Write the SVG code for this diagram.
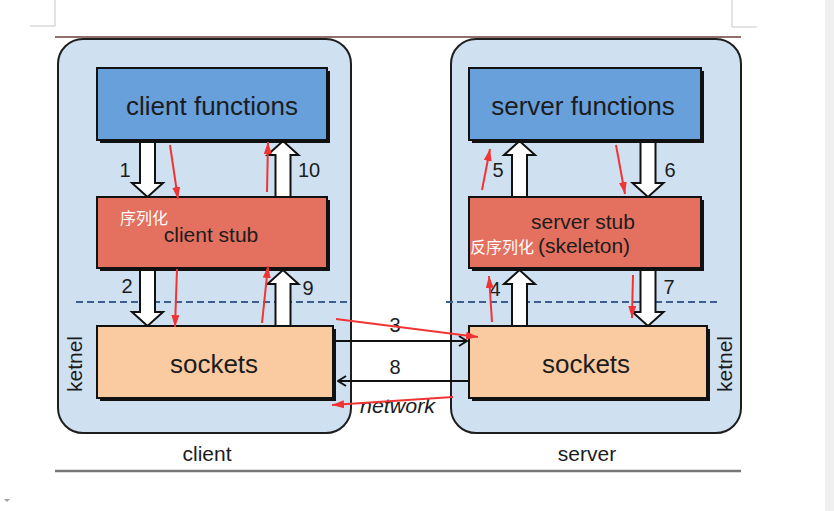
<svg xmlns="http://www.w3.org/2000/svg" width="834" height="511" viewBox="0 0 834 511">
<defs>
<style>
.cont{fill:#cfe0f1;stroke:#1e1e1e;stroke-width:2}
.shadow{fill:#111}
.box{stroke:#111;stroke-width:2}
.fn{fill:#68a0dc}
.stub{fill:#e4705f}
.sock{fill:#facba0}
.t{font-family:"Liberation Sans",Arial,sans-serif;fill:#1c1c1c}
.big{font-size:26px;text-anchor:middle}
.mid{font-size:21px;text-anchor:middle}
.num{font-size:20px;text-anchor:middle}
.cjk{font-family:"Liberation Sans","Noto Sans CJK SC",sans-serif;font-size:16px;fill:#ffffff}
.hollow{fill:#ffffff;stroke:#111;stroke-width:2;stroke-linejoin:miter}
.dash{stroke:#3d5f8f;stroke-width:2;stroke-dasharray:7 4;fill:none}
.net{stroke:#111;stroke-width:2;fill:none}
.red{stroke:#f03434;stroke-width:2;fill:none;marker-end:url(#rh)}
.mark{stroke:#c8c8c8;stroke-width:1;fill:none}
</style>
<marker id="rh" viewBox="0 0 12 8" refX="12" refY="4" markerWidth="12" markerHeight="8" markerUnits="userSpaceOnUse" orient="auto"><path d="M0,0 L12,4 L0,8 z" fill="#f03434"/></marker>
<marker id="chev" viewBox="0 0 10 12" refX="9" refY="6" markerWidth="10" markerHeight="12" markerUnits="userSpaceOnUse" orient="auto"><path d="M1,1 L9,6 L1,11" fill="none" stroke="#111" stroke-width="2"/></marker>
<path id="down" d="M-7.5,0 h15 v42 h8 l-15.5,14 l-15.5,-14 h8 z"/>
<path id="up" d="M-7.5,56 h15 v-42 h8 l-15.5,-14 l-15.5,14 h8 z"/>
</defs>
<rect width="834" height="511" fill="#ffffff"/>
<rect x="825" y="0" width="9" height="511" fill="#f0f0f0"/>
<path class="mark" d="M55,0 V26 H30 M732,0 V27 H757"/>
<path d="M4,499 h6 l-3,3 z" fill="#a0a0a0"/>
<line x1="55" y1="37" x2="741" y2="37" stroke="#6a4038" stroke-width="1.5"/>
<line x1="55" y1="471" x2="741" y2="471" stroke="#777777" stroke-width="2.5"/>

<g id="client">
<rect class="cont" x="58" y="39" width="293" height="394" rx="25"/>
<text class="t mid" x="207" y="461">client</text>
<text class="t mid" transform="translate(82,364) rotate(-90)">ketnel</text>
</g>
<g id="server">
<rect class="cont" x="451" y="39" width="290" height="394" rx="25"/>
<text class="t mid" x="587" y="461">server</text>
<text class="t mid" transform="translate(732,364) rotate(-90)">ketnel</text>
</g>

<g id="dashed">
<line class="dash" x1="76" y1="302" x2="350" y2="302"/>
<line class="dash" x1="446" y1="302" x2="721" y2="302"/>
</g>

<g id="connectors">
<use href="#down" class="hollow" transform="translate(147.5,141)"/>
<use href="#down" class="hollow" transform="translate(147.5,270)"/>
<use href="#up" class="hollow" transform="translate(283,141)"/>
<use href="#up" class="hollow" transform="translate(283,270)"/>
<use href="#up" class="hollow" transform="translate(519.5,141)"/>
<use href="#up" class="hollow" transform="translate(519.5,270)"/>
<use href="#down" class="hollow" transform="translate(648,141)"/>
<use href="#down" class="hollow" transform="translate(648,270)"/>
<line class="net" x1="336" y1="341" x2="467" y2="341" marker-end="url(#chev)"/>
<line class="net" x1="468" y1="381" x2="338" y2="381" marker-end="url(#chev)"/>
<text class="t num" x="125" y="177">1</text>
<text class="t num" x="309" y="177">10</text>
<text class="t num" x="127" y="293">2</text>
<text class="t num" x="308" y="295">9</text>
<text class="t num" x="395" y="332">3</text>
<text class="t num" x="495" y="296">4</text>
<text class="t num" x="498" y="177">5</text>
<text class="t num" x="670" y="177">6</text>
<text class="t num" x="669" y="294">7</text>
<text class="t num" x="395" y="374">8</text>
<text class="t" x="360" y="413" font-size="20" font-style="italic" textLength="75" lengthAdjust="spacingAndGlyphs">network</text>
</g>

<g id="client-functions">
<rect class="shadow" x="100" y="71" width="230" height="72"/>
<rect class="box fn" x="97" y="68" width="230" height="72"/>
<text class="t big" x="212" y="115">client functions</text>
</g>
<g id="client-stub">
<rect class="shadow" x="100" y="200" width="230" height="71"/>
<rect class="box stub" x="97" y="197" width="230" height="71"/>
<text class="t mid" x="211" y="242">client stub</text>
<text class="cjk" x="120" y="224">序列化</text>
</g>
<g id="client-sockets">
<rect class="shadow" x="100" y="329" width="236" height="72"/>
<rect class="box sock" x="97" y="326" width="236" height="72"/>
<text class="t big" x="214" y="373">sockets</text>
</g>
<g id="server-functions">
<rect class="shadow" x="472" y="71" width="232" height="72"/>
<rect class="box fn" x="469" y="68" width="232" height="72"/>
<text class="t big" x="583" y="115">server functions</text>
</g>
<g id="server-stub">
<rect class="shadow" x="472" y="200" width="232" height="71"/>
<rect class="box stub" x="469" y="197" width="232" height="71"/>
<text class="t mid" x="583" y="229">server stub</text>
<text class="t mid" x="584" y="253">(skeleton)</text>
<text class="cjk" x="470" y="253">反序列化</text>
</g>
<g id="server-sockets">
<rect class="shadow" x="472" y="329" width="238" height="72"/>
<rect class="box sock" x="469" y="326" width="238" height="72"/>
<text class="t big" x="586" y="373">sockets</text>
</g>

<g id="red-arrows">
<line class="red" x1="170" y1="145" x2="178" y2="199"/>
<line class="red" x1="267" y1="192" x2="268" y2="142"/>
<line class="red" x1="177" y1="269" x2="175" y2="327"/>
<line class="red" x1="262" y1="323" x2="268" y2="266"/>
<line class="red" x1="482" y1="190" x2="490" y2="149"/>
<line class="red" x1="616" y1="145" x2="625" y2="194"/>
<line class="red" x1="492" y1="322" x2="489" y2="276"/>
<line class="red" x1="633" y1="275" x2="632" y2="318"/>
<line class="red" x1="336" y1="319" x2="478" y2="337" stroke-width="2.5"/>
<line class="red" x1="453" y1="397" x2="332" y2="405" stroke-width="2.5"/>
</g>
</svg>
